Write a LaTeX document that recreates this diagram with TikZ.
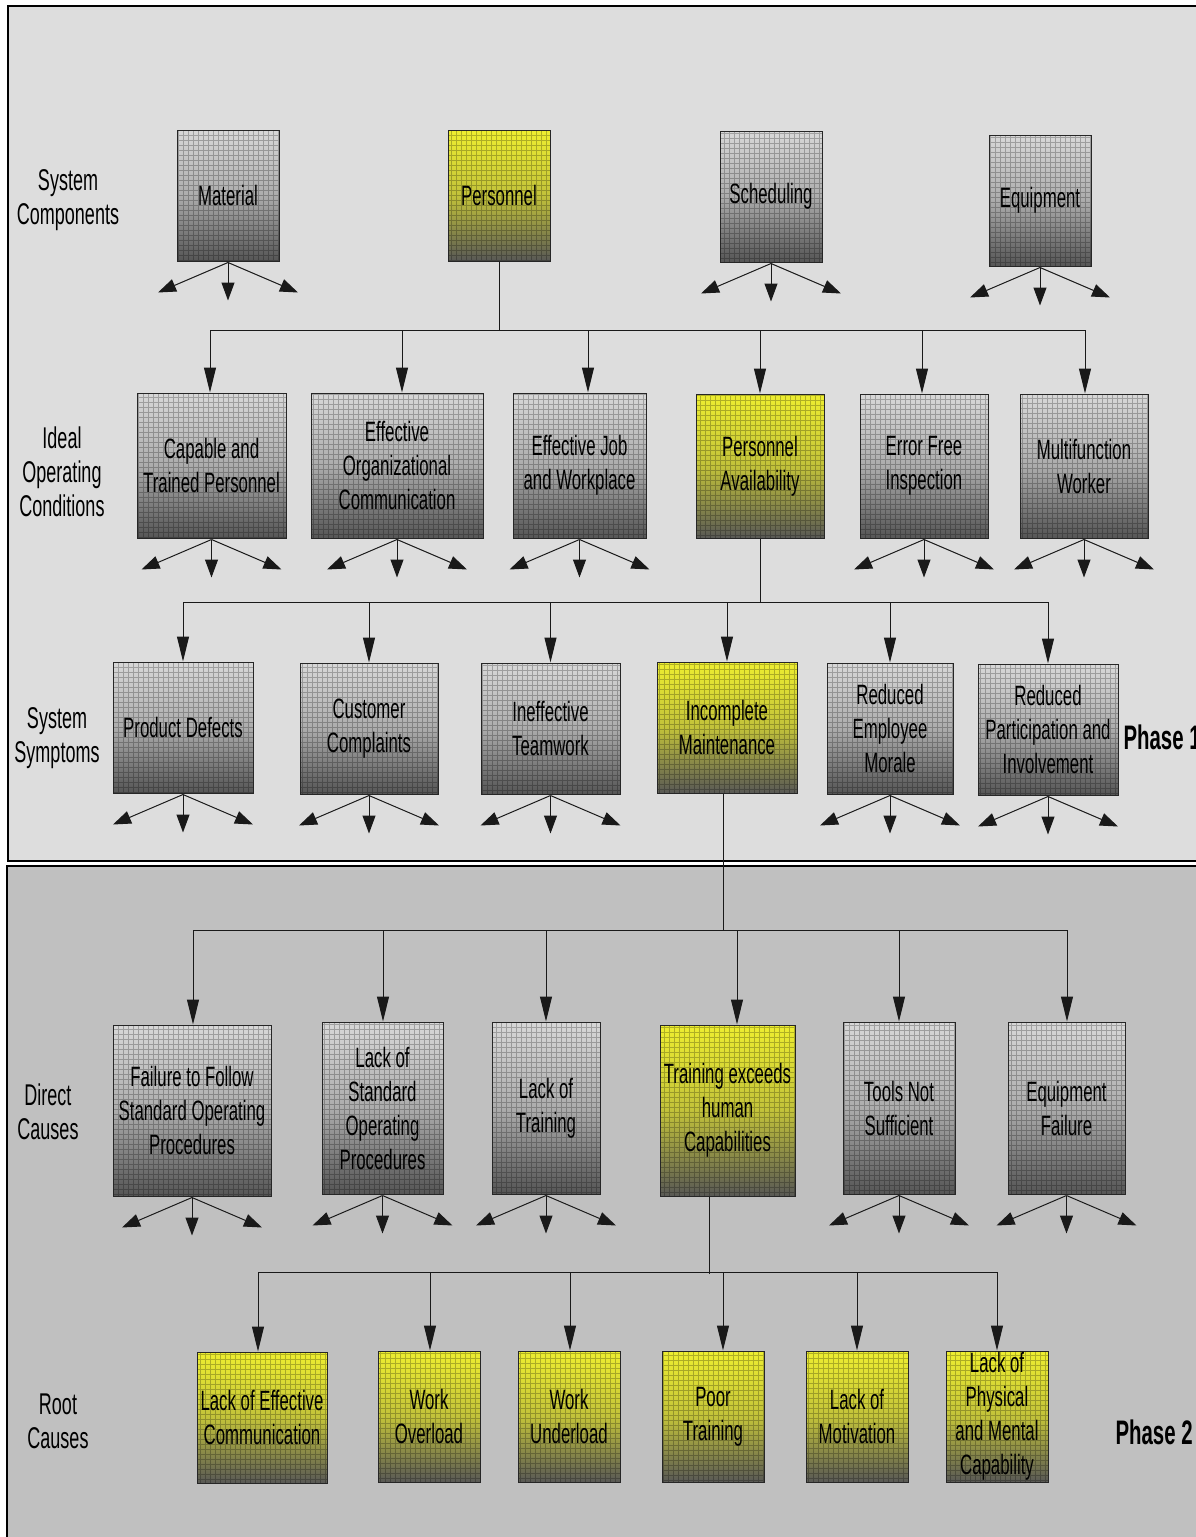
\documentclass[tikz,border=0pt]{standalone}
\usepackage{fontspec}
\setmainfont{Liberation Sans}
\newfontfamily\narrowfont{Liberation Sans}[FakeStretch=0.6]
\usetikzlibrary{arrows.meta,calc}

\definecolor{panelA}{HTML}{DDDDDD}
\definecolor{panelB}{HTML}{C0C0C0}
\definecolor{gtop}{HTML}{D8D8D8}
\definecolor{gmid}{HTML}{ACACAC}
\definecolor{gbot}{HTML}{555555}
\definecolor{ytop}{HTML}{EEEE30}
\definecolor{ymid}{HTML}{C2C23A}
\definecolor{ybot}{HTML}{585855}

\newcommand\boxfont{\narrowfont\fontsize{28}{34}\selectfont}
\newcommand\sidefont{\narrowfont\fontsize{30}{34}\selectfont}
\newcommand\phasefont{\narrowfont\bfseries\fontsize{34}{40}\selectfont}

% three short arrows fanning out below a box
\newcommand\fanout[1]{%
  \coordinate (#1-o) at ($(#1.south)+(0,1)$);
  \coordinate (#1-l) at ($(#1.south)+(-70,31)$);
  \coordinate (#1-d) at ($(#1.south)+(0,39)$);
  \coordinate (#1-r) at ($(#1.south)+(70,31)$);
  \draw[fanarr] (#1-o) -- (#1-l);
  \draw[fanarr] (#1-o) -- (#1-d);
  \draw[fanarr] (#1-o) -- (#1-r);
}

\tikzset{
  cell/.style={draw=black!85, line width=1, inner sep=0pt, align=center, font=\boxfont,
    path picture={\draw[black, opacity=0.25, line width=0.5]
      (path picture bounding box.south west) grid[xstep=5pt,ystep=5pt]
      (path picture bounding box.north east);}},
  greybox/.style={cell, top color=gtop, bottom color=gbot, middle color=gmid},
  yellowbox/.style={cell, top color=ytop, bottom color=ybot, middle color=ymid},
  link/.style={draw=black!90, line width=1},
  arr/.style={link, -{Triangle[length=25pt,width=12pt]}},
  fanarr/.style={link, -{Triangle[length=18pt,width=13pt]}},
  sidelabel/.style={font=\sidefont, align=center},
  phase/.style={font=\phasefont, anchor=west},
}

\begin{document}
\begin{tikzpicture}[x=1pt,y=-1pt]
\useasboundingbox (0,0) rectangle (1196,1537);
\fill[white] (0,0) rectangle (1196,1537);

% phase panels
\draw[fill=panelA, line width=1.3] (8,6) rectangle (1215,861);
\draw[fill=panelB, line width=1.3] (7,866) rectangle (1215,1560);

% row labels
\node[sidelabel] (lab1) at (68,200) {System\\Components};
\node[sidelabel] (lab2) at (62,472) {Ideal\\Operating\\Conditions};
\node[sidelabel] (lab3) at (57,738) {System\\Symptoms};
\node[sidelabel] (lab4) at (48,1112) {Direct\\Causes};
\node[sidelabel] (lab5) at (58,1421) {Root\\Causes};
\node[phase] (ph1) at (1120,737) {Phase 1};
\node[phase] (ph2) at (1112,1432) {Phase 2};

% system components
\node[greybox, minimum width=102, minimum height=131] (mat) at (228,195.5) {Material};
\node[yellowbox, minimum width=102, minimum height=131] (pers) at (499,195.5) {Personnel};
\node[greybox, minimum width=102, minimum height=131] (sched) at (771,196.5) {Scheduling};
\node[greybox, minimum width=102, minimum height=131] (equip) at (1040,200.5) {Equipment};

% ideal operating conditions
\node[greybox, minimum width=149, minimum height=145] (cap) at (211.5,465.5) {Capable and\\Trained Personnel};
\node[greybox, minimum width=172, minimum height=145] (eorg) at (397,465.5) {Effective\\Organizational\\Communication};
\node[greybox, minimum width=133, minimum height=145] (ejob) at (579.5,465.5) {Effective Job\\and Workplace};
\node[yellowbox, minimum width=128, minimum height=144] (pavail) at (760,466) {Personnel\\Availability};
\node[greybox, minimum width=128, minimum height=144] (errf) at (924,466) {Error Free\\Inspection};
\node[greybox, minimum width=128, minimum height=144] (multi) at (1084,466) {Multifunction\\Worker};

% system symptoms
\node[greybox, minimum width=140, minimum height=131] (pdef) at (183,727.5) {Product Defects};
\node[greybox, minimum width=138, minimum height=131] (cust) at (369,728.5) {Customer\\Complaints};
\node[greybox, minimum width=139, minimum height=131] (ineff) at (550.5,728.5) {Ineffective\\Teamwork};
\node[yellowbox, minimum width=140, minimum height=131] (incm) at (727,727.5) {Incomplete\\Maintenance};
\node[greybox, minimum width=126, minimum height=131] (remp) at (890,728.5) {Reduced\\Employee\\Morale};
\node[greybox, minimum width=140, minimum height=131] (rpart) at (1048,729.5) {Reduced\\Participation and\\Involvement};

% direct causes
\node[greybox, minimum width=158, minimum height=171] (fail) at (192,1110.5) {Failure to Follow\\Standard Operating\\Procedures};
\node[greybox, minimum width=121, minimum height=172] (lsop) at (382.5,1108) {Lack of\\Standard\\Operating\\Procedures};
\node[greybox, minimum width=108, minimum height=172] (ltr) at (546,1108) {Lack of\\Training};
\node[yellowbox, minimum width=135, minimum height=171] (texc) at (727.5,1110.5) {Training exceeds\\human\\Capabilities};
\node[greybox, minimum width=112, minimum height=172] (tools) at (899,1108) {Tools Not\\Sufficient};
\node[greybox, minimum width=117, minimum height=172] (eqf) at (1066.5,1108) {Equipment\\Failure};

% root causes
\node[yellowbox, minimum width=130, minimum height=131] (lec) at (262,1417.5) {Lack of Effective\\Communication};
\node[yellowbox, minimum width=102, minimum height=131] (wov) at (429,1416.5) {Work\\Overload};
\node[yellowbox, minimum width=102, minimum height=131] (wun) at (569,1416.5) {Work\\Underload};
\node[yellowbox, minimum width=102, minimum height=131] (ptr) at (713,1416.5) {Poor\\Training};
\node[yellowbox, minimum width=102, minimum height=131] (lmot) at (857,1416.5) {Lack of\\Motivation};
\node[yellowbox, minimum width=102, minimum height=131] (lphy) at (997,1416.5) {Lack of\\Physical\\and Mental\\Capability};

% fans below the boxes that are not expanded
\foreach \b in {mat,sched,equip,cap,eorg,ejob,errf,multi,pdef,cust,ineff,remp,rpart,fail,lsop,ltr,tools,eqf}
  {\fanout{\b}}

% Personnel -> ideal operating conditions
\coordinate (bus1) at (0,330);
\foreach \n/\s in {cap/-1.5,eorg/5,ejob/8.5,pavail/0,errf/-2,multi/1}
  {\coordinate (\n-in) at ($(\n.north)+(\s,0)$);}
\draw[link] (pers.south) -- (pers.south |- bus1);
\draw[link] (cap-in |- bus1) -- (multi-in |- bus1);
\foreach \n in {cap,eorg,ejob,pavail,errf,multi}
  {\draw[arr] (\n-in |- bus1) -- (\n-in);}

% Personnel Availability -> system symptoms
\coordinate (bus2) at (0,602);
\draw[link] (pavail.south) -- (pavail.south |- bus2);
\draw[link] (pdef.north |- bus2) -- (rpart.north |- bus2);
\foreach \n in {pdef,cust,ineff,incm,remp,rpart}
  {\draw[arr] (\n.north |- bus2) -- (\n.north);}

% Incomplete Maintenance -> direct causes
\coordinate (bus3) at (0,930);
\coordinate (incm-out) at ($(incm.south)+(-4,0)$);
\foreach \n/\s in {fail/1,lsop/0.5,ltr/0,texc/9.5,tools/0,eqf/0.5}
  {\coordinate (\n-in) at ($(\n.north)+(\s,0)$);}
\draw[link] (incm-out) -- (incm-out |- bus3);
\draw[link] (fail-in |- bus3) -- (eqf-in |- bus3);
\foreach \n in {fail,lsop,ltr,texc,tools,eqf}
  {\draw[arr] (\n-in |- bus3) -- (\n-in);}

% Training exceeds human capabilities -> root causes
\coordinate (bus4) at (0,1272);
\coordinate (texc-out) at ($(texc.south)+(-18.5,0)$);
\foreach \n/\s in {lec/-4,wov/1,wun/1,ptr/10,lmot/0,lphy/0}
  {\coordinate (\n-in) at ($(\n.north)+(\s,0)$);}
\draw[link] (texc-out) -- ($(texc-out |- bus4)+(0,2)$);
\draw[link] (lec-in |- bus4) -- (lphy-in |- bus4);
\foreach \n in {lec,wov,wun,ptr,lmot,lphy}
  {\draw[arr] (\n-in |- bus4) -- (\n-in);}
\end{tikzpicture}
\end{document}
